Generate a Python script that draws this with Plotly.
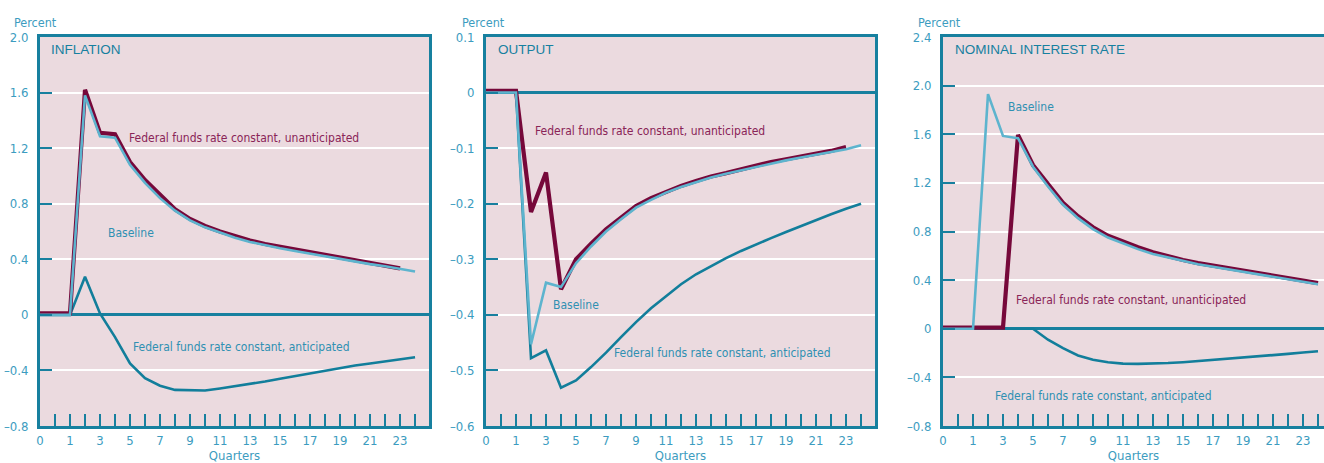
import plotly.graph_objects as go

# ---------------- data ----------------
quarters = list(range(-1, 25))  # plotted positions; axis label "0" sits at the left edge

infl_unanticipated = [0.01, 0.01, 0.01, 1.62, 1.31, 1.30, 1.10, 0.97, 0.86, 0.76, 0.69, 0.64, 0.60,
                      0.565, 0.535, 0.51, 0.49, 0.47, 0.45, 0.43, 0.41, 0.39, 0.37, 0.355, 0.335, None]
infl_baseline = [0, 0, 0, 1.58, 1.285, 1.275, 1.08, 0.95, 0.84, 0.75, 0.68, 0.63, 0.59,
                 0.555, 0.525, 0.50, 0.48, 0.46, 0.44, 0.42, 0.40, 0.38, 0.365, 0.35, 0.33, 0.312]
infl_anticipated = [0, 0, 0, 0.275, 0.01, -0.16, -0.35, -0.456, -0.51, -0.54, -0.545, -0.545, -0.53,
                    -0.515, -0.50, -0.48, -0.46, -0.44, -0.42, -0.40, -0.385, -0.365, -0.35, -0.335, -0.32, -0.305]

out_unanticipated = [0.003, 0.003, 0.003, -0.215, -0.144, -0.354, -0.30, -0.272, -0.246, -0.225, -0.204, -0.19,
                     -0.178, -0.168, -0.159, -0.151, -0.145, -0.138, -0.131, -0.125, -0.12, -0.115, -0.11,
                     -0.105, -0.098, None]
out_baseline = [0, 0, 0, -0.453, -0.342, -0.35, -0.307, -0.277, -0.25, -0.228, -0.207, -0.193, -0.18,
                -0.17, -0.161, -0.153, -0.146, -0.14, -0.133, -0.127, -0.122, -0.117, -0.112, -0.107,
                -0.102, -0.095]
out_anticipated = [0, 0, 0, -0.478, -0.464, -0.531, -0.518, -0.494, -0.468, -0.44, -0.413, -0.388, -0.366,
                   -0.345, -0.327, -0.312, -0.298, -0.285, -0.273, -0.262, -0.251, -0.24, -0.229, -0.219,
                   -0.209, -0.20]

rate_baseline = [0, 0, 0, 1.93, 1.586, 1.567, 1.333, 1.17, 1.02, 0.91, 0.82, 0.75, 0.70, 0.655, 0.615,
                 0.585, 0.555, 0.53, 0.51, 0.49, 0.47, 0.45, 0.43, 0.41, 0.39, 0.366]
rate_unanticipated = [0.01, 0.01, 0.01, 0.01, 0.01, 1.595, 1.347, 1.19, 1.035, 0.925, 0.835, 0.765, 0.715,
                      0.67, 0.63, 0.595, 0.565, 0.54, 0.52, 0.50, 0.48, 0.46, 0.44, 0.42, 0.40, 0.375]
rate_anticipated = [0, 0, 0, 0, 0, 0, 0, -0.09, -0.16, -0.22, -0.255, -0.275, -0.287, -0.289, -0.288,
                    -0.282, -0.275, -0.266, -0.256, -0.247, -0.238, -0.228, -0.218, -0.207, -0.196, -0.185]

x_tick_positions = list(range(-1, 25))
x_tick_labels = ["0"] + ["" if (q % 2 == 0) else str(q) for q in range(0, 25)]

panel_titles = ["INFLATION", "OUTPUT", "NOMINAL INTEREST RATE"]

infl_yticks = [2.0, 1.6, 1.2, 0.8, 0.4, 0, -0.4, -0.8]
infl_ylabels = ["2.0", "1.6", "1.2", "0.8", "0.4", "0", "\u20130.4", "\u20130.8"]
out_yticks = [0.1, 0, -0.1, -0.2, -0.3, -0.4, -0.5, -0.6]
out_ylabels = ["0.1", "0", "\u20130.1", "\u20130.2", "\u20130.3", "\u20130.4", "\u20130.5", "\u20130.6"]
rate_yticks = [2.4, 2.0, 1.6, 1.2, 0.8, 0.4, 0, -0.4, -0.8]
rate_ylabels = ["2.4", "2.0", "1.6", "1.2", "0.8", "0.4", "0", "\u20130.4", "\u20130.8"]

series_labels = [
    # (panel index, x, y, text, kind)
    (0, 12.63, 1.276, "Federal funds rate constant, unanticipated", "unant"),
    (0, 5.07, 0.59, "Baseline", "base"),
    (0, 12.43, -0.23, "Federal funds rate constant, anticipated", "ant"),
    (1, 9.93, -0.070, "Federal funds rate constant, unanticipated", "unant"),
    (1, 4.97, -0.383, "Baseline", "base"),
    (1, 14.77, -0.468, "Federal funds rate constant, anticipated", "ant"),
    (2, 4.89, 1.823, "Baseline", "base"),
    (2, 11.52, 0.234, "Federal funds rate constant, unanticipated", "unant"),
    (2, 9.67, -0.55, "Federal funds rate constant, anticipated", "ant"),
]

# ---------------- styles ----------------
TEAL = "#17809F"
LABEL = "#3C9CC0"
BG = "#EBDADF"
MAROON = "#76083A"
LIGHTBLUE = "#5DB4CE"
ANTIC = "#127E9B"
MAROON_TXT = "#8A2457"
TEXT_TXT = "#2F90B2"
FONT = "DejaVu Sans Condensed, Liberation Sans Narrow, Arial Narrow, sans-serif"
TITLE_FONT = "Liberation Sans, Arial, sans-serif"

fig = go.Figure()

panels = [
    (infl_unanticipated, infl_baseline, infl_anticipated, "x", "y"),
    (out_unanticipated, out_baseline, out_anticipated, "x2", "y2"),
    (rate_unanticipated, rate_baseline, rate_anticipated, "x3", "y3"),
]
for unant, base, ant, xa, ya in panels:
    fig.add_trace(go.Scatter(x=quarters, y=ant, mode="lines", line=dict(color=ANTIC, width=2.6),
                             xaxis=xa, yaxis=ya, hoverinfo="skip"))
    fig.add_trace(go.Scatter(x=quarters, y=unant, mode="lines", line=dict(color=MAROON, width=4.2),
                             xaxis=xa, yaxis=ya, hoverinfo="skip"))
    fig.add_trace(go.Scatter(x=quarters, y=base, mode="lines", line=dict(color=LIGHTBLUE, width=2.6),
                             xaxis=xa, yaxis=ya, hoverinfo="skip"))

W, H = 1324, 463
ydom = [1 - 426 / H, 1 - 37 / H]
x_domains = [[40 / W, 429 / W], [486 / W, 875 / W], [943 / W, 1.0]]
x_ranges = [[-1, 24.93], [-1, 24.93], [-1, (1324 - 943) / 15 - 1]]
y_ranges = [[-0.8, 2.0], [-0.6, 0.1], [-0.8, 2.4]]
y_ticks = [(infl_yticks, infl_ylabels), (out_yticks, out_ylabels), (rate_yticks, rate_ylabels)]

layout = dict(
    width=W, height=H, margin=dict(l=0, r=0, t=0, b=0),
    paper_bgcolor="white", plot_bgcolor=BG, showlegend=False,
    font=dict(family=FONT, color=LABEL, size=13),
)
for i in range(3):
    sfx = "" if i == 0 else str(i + 1)
    layout["xaxis" + sfx] = dict(
        domain=x_domains[i], range=x_ranges[i], anchor="y" + sfx,
        tickmode="array", tickvals=x_tick_positions, ticktext=x_tick_labels,
        ticks="inside", ticklen=12, tickwidth=2, tickcolor=TEAL,
        showline=True, linecolor=TEAL, linewidth=3, mirror=True,
        showgrid=False, zeroline=False, automargin=False,
        tickfont=dict(family=FONT, size=13, color=LABEL),
        title=dict(text="Quarters", font=dict(family=FONT, size=13, color=LABEL), standoff=6),
    )
    layout["yaxis" + sfx] = dict(
        domain=ydom, range=y_ranges[i], anchor="x" + sfx,
        tickmode="array", tickvals=y_ticks[i][0], ticktext=y_ticks[i][1],
        ticks="inside", ticklen=12, tickwidth=2, tickcolor=TEAL,
        showline=True, linecolor=TEAL, linewidth=3, mirror=(i < 2),
        showgrid=True, gridcolor="white", gridwidth=2,
        zeroline=True, zerolinecolor=TEAL, zerolinewidth=2.5,
        automargin=False, ticklabelstandoff=6,
        tickfont=dict(family=FONT, size=13, color=LABEL),
    )
fig.update_layout(**layout)

ann = []
percent_x = [12, 460, 916]
title_x = [49, 496, 953]
for i in range(3):
    ann.append(dict(text="Percent", x=percent_x[i] / W, y=1 - 22 / H, xref="paper", yref="paper",
                    xanchor="left", yanchor="middle", showarrow=False,
                    font=dict(family=FONT, size=12.5, color=LABEL)))
    ann.append(dict(text=panel_titles[i], x=title_x[i] / W, y=1 - 50 / H, xref="paper", yref="paper",
                    xanchor="left", yanchor="middle", showarrow=False,
                    font=dict(family=TITLE_FONT, size=13.5, color=TEAL)))

kind_color = {"unant": MAROON_TXT, "base": TEXT_TXT, "ant": TEXT_TXT}
for p, x, y, t, kind in series_labels:
    sfx = "" if p == 0 else str(p + 1)
    ann.append(dict(text=t, x=x, y=y, xref="x" + sfx, yref="y" + sfx, xanchor="center", yanchor="middle",
                    showarrow=False, font=dict(family=FONT, size=12, color=kind_color[kind])))
fig.update_layout(annotations=ann)

fig.write_html("out.html")
